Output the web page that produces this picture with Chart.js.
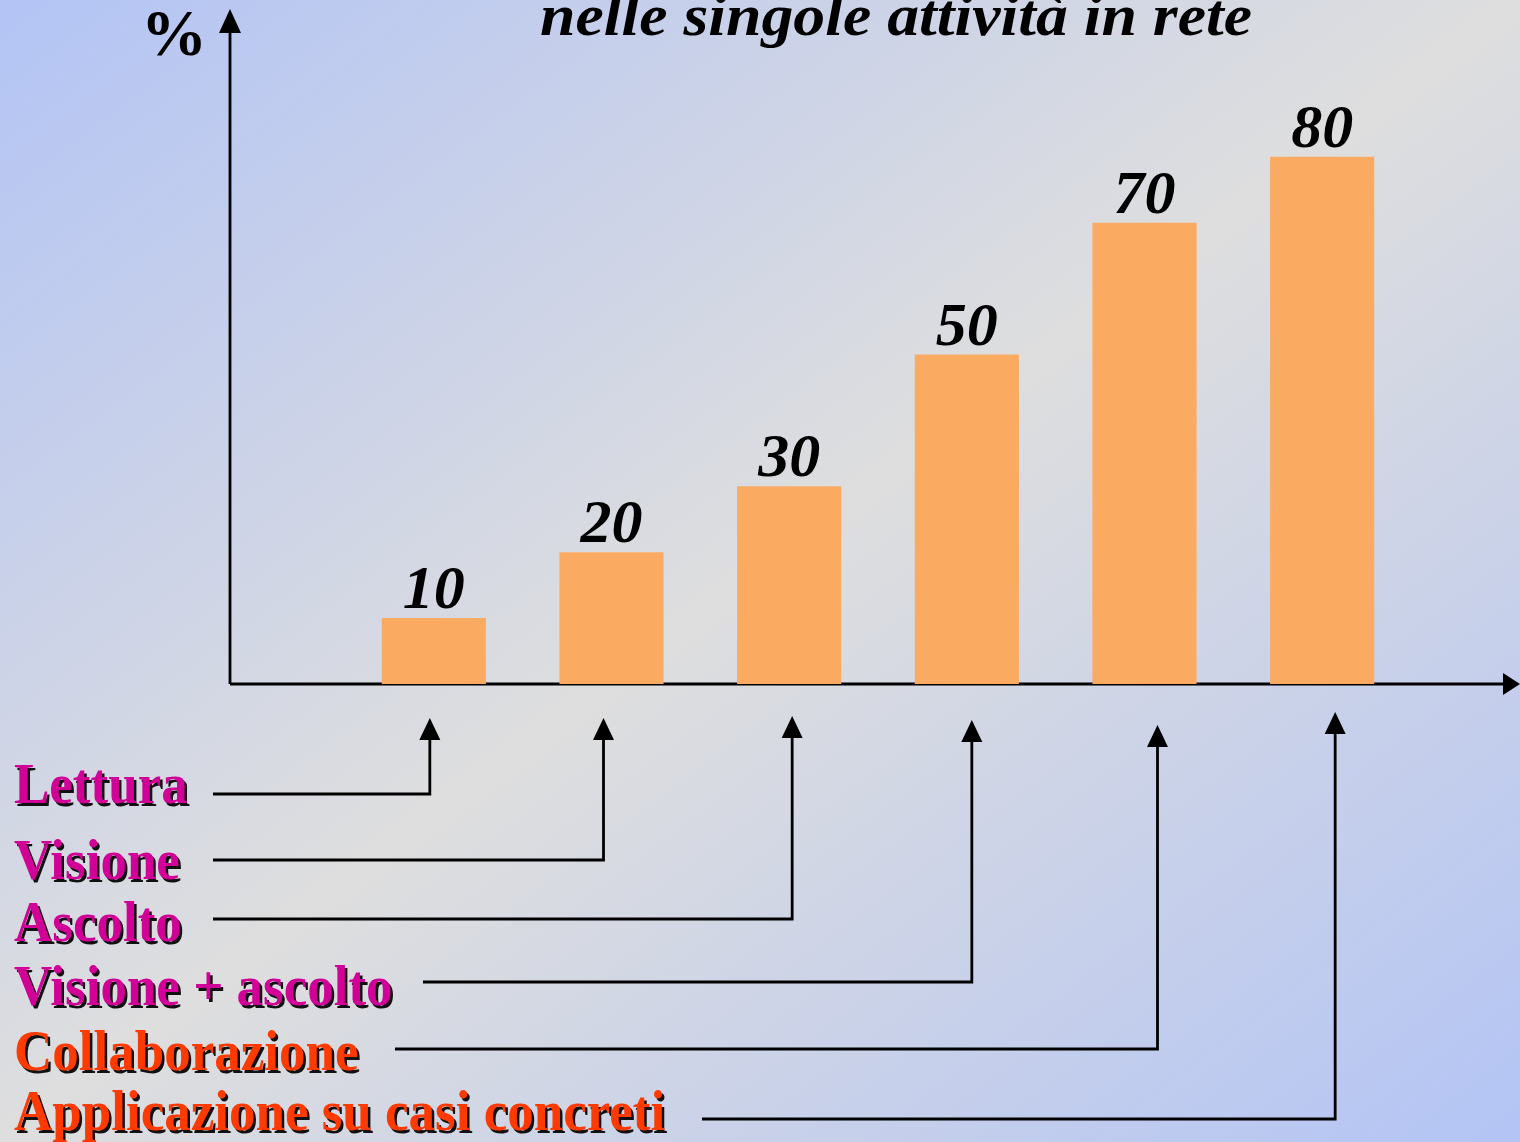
<!DOCTYPE html>
<html>
<head>
<meta charset="utf-8">
<script src="https://cdn.jsdelivr.net/npm/chart.js@4.4.1/dist/chart.umd.min.js"></script>
<style>
  html, body { margin: 0; padding: 0; }
  body {
    width: 1520px; height: 1142px; overflow: hidden;
    background: linear-gradient(to bottom right, #b3c4f5 0%, #dedede 50%, #b3c4f5 100%);
  }
  canvas { display: block; }
</style>
</head>
<body>
<canvas id="myChart" width="1520" height="1142"></canvas>
<script>
// dati
const activities = ['Lettura', 'Visione', 'Ascolto', 'Visione + ascolto', 'Collaborazione', 'Applicazione su casi concreti'];
const retention = [10, 20, 30, 50, 70, 80];
const activityColors = ['#d10096', '#d10096', '#d10096', '#d10096', '#ff3a00', '#ff3a00'];
const titleText = 'nelle singole attività in rete';
const yAxisLabel = '%';

// layout delle didascalie (posizioni)
const captionBaselines = [803, 879, 941, 1005, 1070, 1130];
const connectorY = [794, 860, 919, 982, 1049, 1119];
const connectorStart = [213, 213, 213, 423, 395, 702];
const connectorShift = [-4, -8, 3, 5, 13, 13];
const arrowTipY = [718, 718, 716, 720, 725, 712];
const axisX = 230;

function arrowHead(ctx, x, y, dir, len, half) {
    ctx.beginPath();
    if (dir === 'up') {
        ctx.moveTo(x, y);
        ctx.lineTo(x - half, y + len);
        ctx.lineTo(x + half, y + len);
    } else {
        ctx.moveTo(x, y);
        ctx.lineTo(x - len, y - half);
        ctx.lineTo(x - len, y + half);
    }
    ctx.closePath();
    ctx.fill();
}

const decorations = {
    id: 'decorations',
    beforeDatasetsDraw(chart) {
        const ctx = chart.ctx;
        const y0 = chart.scales.y.getPixelForValue(0);
        ctx.save();
        ctx.strokeStyle = '#000';
        ctx.fillStyle = '#000';
        ctx.lineWidth = 2.8;
        ctx.beginPath();
        ctx.moveTo(axisX, y0);
        ctx.lineTo(axisX, 28);
        ctx.moveTo(axisX, y0);
        ctx.lineTo(chart.width - 14, y0);
        ctx.stroke();
        arrowHead(ctx, axisX, 9, 'up', 24, 11);
        arrowHead(ctx, chart.width, y0, 'right', 17, 11);
        ctx.restore();
    },
    afterDatasetsDraw(chart) {
        const ctx = chart.ctx;
        const bars = chart.getDatasetMeta(0).data;
        ctx.save();

        // valori sopra le barre
        ctx.fillStyle = '#000';
        ctx.textAlign = 'center';
        ctx.textBaseline = 'alphabetic';
        ctx.font = 'italic bold 62px "Liberation Serif"';
        bars.forEach((bar, i) => {
            ctx.fillText(String(retention[i]), bar.x, bar.y - 10);
        });

        // titolo (tagliato in alto)
        ctx.textAlign = 'left';
        ctx.font = 'italic bold 60px "Liberation Serif"';
        const tw = ctx.measureText(titleText).width;
        ctx.save();
        ctx.translate(540, 35);
        ctx.scale(712 / tw, 1);
        ctx.fillText(titleText, 0, 0);
        ctx.restore();

        ctx.font = 'bold 66px "Liberation Serif"';
        ctx.fillText(yAxisLabel, 141, 55);

        // didascalie con frecce
        ctx.font = 'bold 53px "Liberation Serif"';
        activities.forEach((name, i) => {
            ctx.save();
            ctx.translate(14, captionBaselines[i]);
            ctx.scale(1, 1.06);
            ctx.fillStyle = '#111';
            ctx.fillText(name, 2.5, 2.5);
            ctx.fillStyle = activityColors[i];
            ctx.fillText(name, 0, 0);
            ctx.restore();

            const vx = bars[i].x + connectorShift[i];
            ctx.strokeStyle = '#000';
            ctx.lineWidth = 2.8;
            ctx.beginPath();
            ctx.moveTo(connectorStart[i], connectorY[i]);
            ctx.lineTo(vx, connectorY[i]);
            ctx.lineTo(vx, arrowTipY[i] + 18);
            ctx.stroke();
            ctx.fillStyle = '#000';
            arrowHead(ctx, vx, arrowTipY[i], 'up', 22, 10.5);
        });
        ctx.restore();
    }
};

new Chart(document.getElementById('myChart').getContext('2d'), {
    type: 'bar',
    data: {
        labels: activities,
        datasets: [{
            label: '%',
            data: retention,
            backgroundColor: '#fbaa62',
            borderWidth: 0,
            barPercentage: 0.586,
            categoryPercentage: 1.0
        }]
    },
    options: {
        responsive: false,
        animation: false,
        layout: {
            padding: { left: 345, right: 109, top: 25, bottom: 458 }
        },
        scales: {
            x: { display: false },
            y: { display: false, min: 0, max: 100 }
        },
        plugins: {
            legend: { display: false },
            tooltip: { enabled: false }
        }
    },
    plugins: [decorations]
});
</script>
</body>
</html>
